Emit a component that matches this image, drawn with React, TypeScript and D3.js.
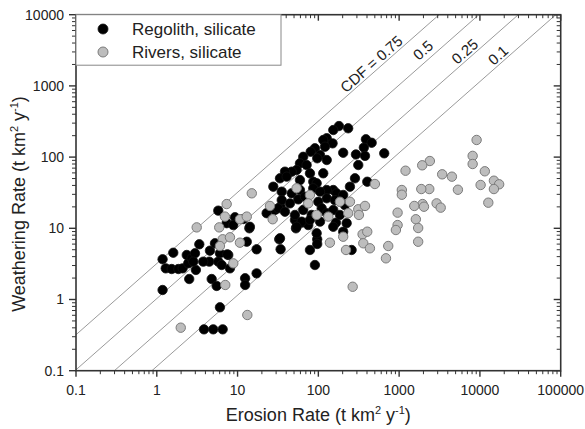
import * as d3 from "d3";

// Erosion rate vs weathering rate, both in t km^-2 y^-1
const regolith: [number, number][] = [
  [1.18, 3.67], [1.6, 4.54], [1.18, 1.36], [1.29, 2.74], [1.53, 2.68],
  [1.85, 2.68], [2.09, 2.74], [2.35, 4.22], [2.45, 3.22], [2.7, 3.79],
  [2.97, 4.46], [2.52, 1.94], [3.36, 5.96], [3.05, 2.6], [2.83, 3.4],
  [4.55, 4.85], [4.47, 3.4], [5.25, 6.16], [6.05, 4.46], [5.77, 3.4],
  [6.36, 3.05], [7.67, 4.22], [8.05, 2.74], [4.78, 1.94], [5.51, 1.55],
  [6.05, 0.777], [3.84, 0.381], [5.0, 0.381], [6.54, 0.381], [5.77, 17.7],
  [7.33, 11.8], [9.29, 14.3], [8.85, 11.1], [11.8, 13.5], [14.0, 10.0],
  [13.0, 6.48], [17.2, 5.07], [17.2, 2.33], [12.4, 1.99], [12.4, 1.6],
  [3.76, 3.4], [7.46, 4.31], [22.9, 16.3], [29.0, 18.1], [34.1, 20.1],
  [52.8, 10.0], [32.8, 7.01], [34.1, 5.07], [51.3, 13.1], [62.1, 12.0],
  [75, 11.1], [78.7, 4.96], [96.8, 7.01], [96.8, 6.02], [90.7, 3.05],
  [165, 12.0], [203, 8.96], [258, 4.96], [180, 273], [153, 240],
  [234, 254], [127, 184], [115, 174], [150, 156], [121, 140],
  [90.7, 133], [80.4, 119], [105, 107], [203, 115], [388, 178],
  [457, 159], [366, 136], [292, 109], [378, 104], [654, 113],
  [312, 77.4], [115, 59.2], [65, 101], [59.2, 81.8], [71.6, 77.4],
  [53.8, 65.9], [78.7, 59.2], [86.5, 45.1], [46.8, 62.4], [246, 38.4],
  [403, 45.1], [284, 50.4], [153, 34.5], [168, 31.0], [38.6, 62.4],
  [33.5, 50.4], [40.5, 53.1], [59.2, 47.6], [95.3, 42.9], [27.7, 38.4],
  [35.2, 32.7], [46.8, 31.0], [59.2, 34.5], [86.5, 36.5], [127, 34.5],
  [35.2, 24.9], [44.5, 22.4], [56.4, 25.5], [68.2, 27.8], [99.8, 23.6],
  [127, 26.4], [160, 24.9], [203, 29.4], [31.9, 19.1], [38.6, 17.1],
  [51.3, 15.4], [65, 18.1], [82.6, 15.4], [110, 19.1], [127, 16.3],
  [153, 18.1], [185, 15.4], [62.1, 12.4], [78.7, 13.1], [105, 12.4],
  [224, 11.8], [14.2, 10.5], [95.3, 8.51], [33.5, 7.24], [53.8, 10.5],
  [127, 91], [96.8, 96.2], [105, 32.7], [213, 21.2], [153, 10.5],
];

const rivers: [number, number][] = [
  [3.12, 10.3], [7.33, 21.9], [5.93, 10.3], [6.54, 7.01], [6.98, 14.6],
  [10.7, 13.4], [13.0, 14.6], [10.7, 6.28], [8.85, 3.22], [7.04, 1.6],
  [13.2, 0.606], [1.98, 0.402], [25.2, 20.6], [27.2, 13.4], [8.05, 7.48],
  [6.05, 5.64], [15.0, 31.0], [53.8, 36.5], [78.7, 29.4], [75, 22.4],
  [95.3, 15.4], [133, 14.6], [185, 23.6], [234, 16.3], [139, 6.28],
  [246, 23.6], [312, 18.5], [378, 20.6], [318, 15.4], [353, 8.24],
  [403, 8.96], [203, 7.62], [360, 6.16], [435, 5.24], [220, 4.96],
  [733, 5.64], [687, 3.79], [266, 1.51], [501, 41.9], [9100, 174],
  [8130, 104], [8130, 80], [11500, 63.2], [14900, 46.6], [17300, 41.5],
  [14900, 35.6], [10200, 40.6], [12700, 22.9], [5340, 34.8], [4500, 53.1],
  [3410, 57.3], [2400, 88.1], [1930, 76.7], [1200, 64.4], [2360, 35.6],
  [1880, 35.6], [1080, 34.5], [1080, 29.6], [2910, 22.4], [3270, 19.5],
  [1950, 21.9], [1540, 20.6], [2030, 20.1], [957, 16.6], [1610, 13.4],
  [957, 11.1], [912, 9.46], [1720, 10.1], [1720, 6.48],
];

// CDF lines: weathering = ratio * erosion
const cdfLabels = ["CDF = 0.75", "0.5", "0.25", "0.1"];
const cdfRatios = [3.2, 1.03, 0.335, 0.115];
const cdfLabelErosion = [526, 2400, 7520, 19400];

const xTicks = [0.1, 1, 10, 100, 1000, 10000, 100000];
const xTickLabels = ["0.1", "1", "10", "100", "1000", "10000", "100000"];
const yTicks = [0.1, 1, 10, 100, 1000, 10000];
const yTickLabels = ["0.1", "1", "10", "100", "1000", "10000"];

const legendLabels = ["Regolith, silicate", "Rivers, silicate"];

const W = 585;
const H = 429;
const left = 76;
const right = 560.7;
const top = 14.7;
const bottom = 370.7;
const font = "Arial, 'Liberation Sans', sans-serif";
const axisColor = "#333";

const x = d3.scaleLog().domain([0.1, 100000]).range([left, right]);
const y = d3.scaleLog().domain([0.1, 10000]).range([bottom, top]);

function minors(majors: number[]) {
  const out: number[] = [];
  for (let i = 0; i < majors.length - 1; i++) {
    for (let k = 2; k <= 9; k++) out.push(majors[i] * k);
  }
  return out;
}

const blackDot = { fill: "#000", stroke: "#111" };
const greyDot = { fill: "#bdbdbd", stroke: "#7b7b7b" };

export default function App() {
  const xMinor = minors(xTicks);
  const yMinor = minors(yTicks);
  const angle = (Math.atan2(y(1) - y(10), x(10) - x(1)) * 180) / Math.PI;

  return (
    <svg
      width={W}
      height={H}
      style={{ position: "absolute", left: 0, top: 0, background: "#fff" }}
      fontFamily={font}
    >
      <defs>
        <clipPath id="plot">
          <rect x={left} y={top} width={right - left} height={bottom - top} />
        </clipPath>
      </defs>

      {/* CDF lines */}
      <g clipPath="url(#plot)">
        {cdfRatios.map((r, i) => {
          const e0 = 0.01;
          const e1 = 1e6;
          return (
            <line
              key={i}
              x1={x(e0)}
              y1={y(e0 * r)}
              x2={x(e1)}
              y2={y(e1 * r)}
              stroke="#9a9a9a"
              strokeWidth={1}
            />
          );
        })}
      </g>
      {cdfLabels.map((lab, i) => {
        const e = cdfLabelErosion[i];
        const px = x(e);
        const py = y(e * cdfRatios[i]);
        return (
          <text
            key={lab}
            transform={`translate(${px},${py}) rotate(${-angle})`}
            dy={i === 1 ? -5 : -2.5}
            textAnchor="middle"
            fontSize={15}
            fill="#222"
          >
            {lab}
          </text>
        );
      })}

      {/* points */}
      <g clipPath="url(#plot)">
        {regolith.map((d, i) => (
          <circle key={"r" + i} cx={x(d[0])} cy={y(d[1])} r={4.7} {...blackDot} strokeWidth={0.8} />
        ))}
        {rivers.map((d, i) => (
          <circle key={"v" + i} cx={x(d[0])} cy={y(d[1])} r={4.7} {...greyDot} strokeWidth={1} />
        ))}
      </g>

      {/* frame */}
      <rect
        x={left}
        y={top}
        width={right - left}
        height={bottom - top}
        fill="none"
        stroke={axisColor}
        strokeWidth={1.6}
      />

      {/* bottom & top ticks */}
      {xTicks.map((t) => (
        <g key={"xt" + t}>
          <line x1={x(t)} x2={x(t)} y1={bottom} y2={bottom + 6} stroke={axisColor} strokeWidth={1.4} />
          <line x1={x(t)} x2={x(t)} y1={top} y2={top + 6} stroke={axisColor} strokeWidth={1.4} />
        </g>
      ))}
      {xMinor.map((t) => (
        <g key={"xm" + t}>
          <line x1={x(t)} x2={x(t)} y1={bottom} y2={bottom + 3.5} stroke={axisColor} strokeWidth={1} />
          <line x1={x(t)} x2={x(t)} y1={top} y2={top + 3.5} stroke={axisColor} strokeWidth={1} />
        </g>
      ))}
      {xTicks.map((t, i) => (
        <text key={"xl" + t} x={x(t)} y={395} textAnchor="middle" fontSize={14} fill="#222">
          {xTickLabels[i]}
        </text>
      ))}

      {/* left & right ticks */}
      {yTicks.map((t) => (
        <g key={"yt" + t}>
          <line x1={left - 7} x2={left} y1={y(t)} y2={y(t)} stroke={axisColor} strokeWidth={1.4} />
          <line x1={right - 7} x2={right} y1={y(t)} y2={y(t)} stroke={axisColor} strokeWidth={1.4} />
        </g>
      ))}
      {yMinor.map((t) => (
        <g key={"ym" + t}>
          <line x1={left - 4} x2={left} y1={y(t)} y2={y(t)} stroke={axisColor} strokeWidth={1} />
          <line x1={right - 4} x2={right} y1={y(t)} y2={y(t)} stroke={axisColor} strokeWidth={1} />
        </g>
      ))}
      {yTicks.map((t, i) => (
        <text
          key={"yl" + t}
          x={64}
          y={y(t)}
          dy="0.35em"
          textAnchor="end"
          fontSize={14}
          fill="#222"
        >
          {yTickLabels[i]}
        </text>
      ))}

      {/* axis titles */}
      <text x={(left + right) / 2} y={421} textAnchor="middle" fontSize={18} fill="#222">
        Erosion Rate (t km
        <tspan dy={-7} fontSize={11}>2</tspan>
        <tspan dy={7}> y</tspan>
        <tspan dy={-7} fontSize={11}>-1</tspan>
        <tspan dy={7}>)</tspan>
      </text>
      <text
        transform="translate(25,204) rotate(-90)"
        textAnchor="middle"
        fontSize={18}
        fill="#222"
      >
        Weathering Rate (t km
        <tspan dy={-7} fontSize={11}>2</tspan>
        <tspan dy={7}> y</tspan>
        <tspan dy={-7} fontSize={11}>-1</tspan>
        <tspan dy={7}>)</tspan>
      </text>

      {/* legend */}
      <g>
        <rect x={left} y={top} width={205} height={50.5} fill="#fff" stroke="#888" strokeWidth={1} />
        {legendLabels.map((lab, i) => (
          <g key={lab} transform={`translate(0,${29 + i * 23})`}>
            <circle
              cx={103}
              cy={0}
              r={5}
              {...(i === 0 ? blackDot : greyDot)}
              strokeWidth={i === 0 ? 0.8 : 1}
            />
            <text x={132} y={0} dy="0.35em" fontSize={17} fill="#222">
              {lab}
            </text>
          </g>
        ))}
      </g>
    </svg>
  );
}
